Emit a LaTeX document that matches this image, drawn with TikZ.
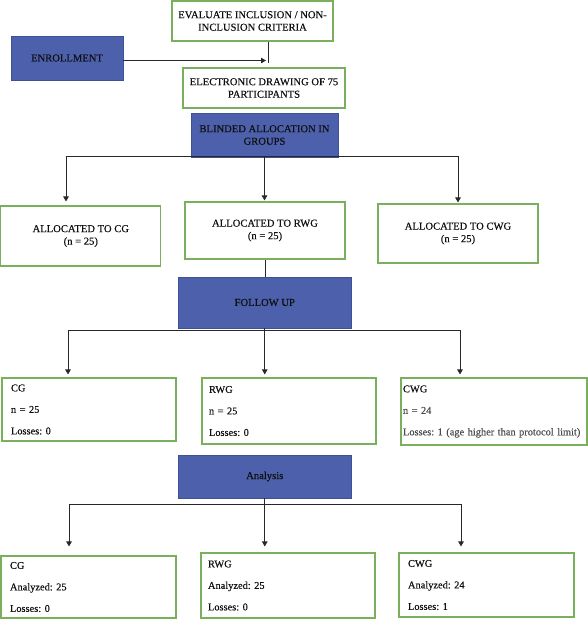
\documentclass[tikz,border=0pt]{standalone}
\usepackage{fontspec}
\setmainfont{Liberation Serif}[FakeBold=0.25]
\usetikzlibrary{arrows.meta}
\frenchspacing
\definecolor{bluebox}{RGB}{76,96,172}
\definecolor{blueedge}{RGB}{62,80,150}
\definecolor{greenedge}{RGB}{122,176,92}
\definecolor{txt}{RGB}{15,15,15}
\definecolor{graytxt}{RGB}{75,75,75}
\definecolor{linec}{RGB}{40,40,40}
\tikzset{
  bluestage/.style={draw=blueedge, line width=0.6pt, fill=bluebox, inner sep=0pt, align=center,
    text=txt, font=\fontsize{10.6}{12.5}\selectfont},
  greenbox/.style={draw=greenedge, line width=1.1pt, fill=white, inner sep=0pt, align=center,
    text=txt, font=\fontsize{10.6}{12.5}\selectfont},
  listbox/.style={draw=greenedge, line width=1.1pt, fill=white, inner ysep=0pt, align=left,
    text=txt, font=\fontsize{10.4}{21.5}\selectfont},
  conn/.style={draw=linec, line width=0.8pt},
  arr/.style={conn, -{Triangle[width=5.5pt,length=5pt]}},
}
\begin{document}
\begin{tikzpicture}[x=1pt,y=-1pt]
\useasboundingbox (0,0) rectangle (588,619);
% top
\node[bluestage, minimum width=112pt, minimum height=44pt] (enroll) at (67,58) {ENROLLMENT};
\node[greenbox, minimum width=161pt, minimum height=40pt] (eval) at (252.5,21) {EVALUATE INCLUSION / NON-\\INCLUSION CRITERIA};
\node[greenbox, minimum width=162pt, minimum height=40pt] (elec) at (264,88) {ELECTRONIC DRAWING OF 75\\PARTICIPANTS};
\node[bluestage, minimum width=147pt, minimum height=44pt] (blind) at (264.5,135) {BLINDED ALLOCATION IN\\GROUPS};
% allocation
\node[greenbox, minimum width=160pt, minimum height=60pt] (alcg) at (80.8,236) {ALLOCATED TO CG\\(n = 25)};
\node[greenbox, minimum width=160pt, minimum height=57pt] (alrwg) at (265,230.5) {ALLOCATED TO RWG\\(n = 25)};
\node[greenbox, minimum width=160pt, minimum height=59pt] (alcwg) at (458,233.5) {ALLOCATED TO CWG\\(n = 25)};
% follow up
\node[bluestage, minimum width=172.5pt, minimum height=51pt] (follow) at (264.75,302.5) {FOLLOW UP};
\node[listbox, inner xsep=9pt, text width=156pt, minimum height=63pt] (fcg) at (89,409.5) {CG\\n = 25\\Losses: 0};
\node[listbox, inner xsep=7pt, text width=160pt, minimum height=66pt] (frwg) at (289,411) {RWG\\n = 25\\Losses: 0};
\node[listbox, inner xsep=2pt, text width=182pt, minimum height=67pt] (fcwg) at (494,411.5) {CWG\\\textcolor{graytxt}{n = 24}\\\textcolor{graytxt}{Losses: 1 (age higher than protocol limit)}};
% analysis
\node[bluestage, minimum width=172.5pt, minimum height=43pt] (anal) at (264.75,476.5) {Analysis};
\node[listbox, inner xsep=9pt, text width=157pt, minimum height=62pt] (acg) at (88.5,587) {CG\\Analyzed: 25\\Losses: 0};
\node[listbox, inner xsep=7pt, text width=160pt, minimum height=65pt] (arwg) at (288,585.5) {RWG\\Analyzed: 25\\Losses: 0};
\node[listbox, inner xsep=9pt, text width=157pt, minimum height=64pt] (acwg) at (486.5,585) {CWG\\Analyzed: 24\\Losses: 1};
% connectors: top
\coordinate (j1) at (266,60.5);
\coordinate (j2) at (268,63);
\draw[arr] (enroll.east |- j1) -- (j1);
\draw[conn] (eval.south -| j2) -- (j2);
% blinded allocation branches
\coordinate (b1) at (66,156);
\coordinate (b2) at (458,156);
\draw[conn] (b1) -- (b2);
\draw[arr, shorten >=4pt] (b1) -- (alcg.north -| b1);
\draw[arr, shorten >=1pt] (blind.south) -- (blind.south |- alrwg.north);
\draw[arr, shorten >=1pt] (b2) -- (alcwg.north -| b2);
% to follow up
\draw[conn] (alrwg.south) -- (alrwg.south |- follow.north);
\coordinate (f1) at (68,330);
\coordinate (f2) at (460,330);
\draw[conn] (f1) -- (f2);
\draw[arr, shorten >=3pt] (f1) -- (fcg.north -| f1);
\draw[arr, shorten >=3pt] (follow.south) -- (follow.south |- frwg.north);
\draw[arr, shorten >=3pt] (f2) -- (fcwg.north -| f2);
% analysis branches
\coordinate (a1) at (69,504);
\coordinate (a2) at (461,504);
\draw[conn] (a1) -- (a2);
\draw[arr, shorten >=9pt] (a1) -- (acg.north -| a1);
\draw[arr, shorten >=6pt] (anal.south) -- (anal.south |- arwg.north);
\draw[arr, shorten >=6pt] (a2) -- (acwg.north -| a2);
\end{tikzpicture}
\end{document}
